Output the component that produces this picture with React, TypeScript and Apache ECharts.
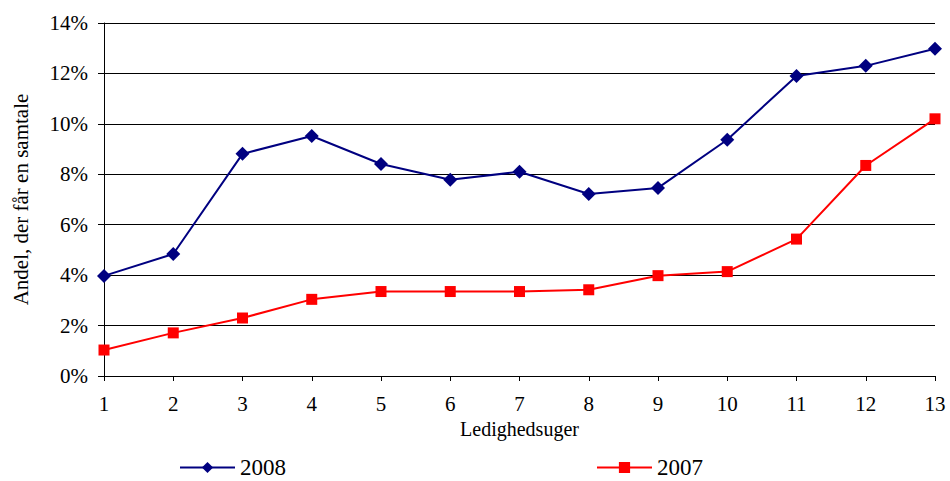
import React, { useEffect, useRef } from "react";
import * as echarts from "echarts";

const weeks = ["1", "2", "3", "4", "5", "6", "7", "8", "9", "10", "11", "12", "13"];
const values2008 = [3.97, 4.84, 8.81, 9.52, 8.41, 7.78, 8.1, 7.22, 7.46, 9.37, 11.9, 12.3, 12.98];
const values2007 = [1.03, 1.71, 2.3, 3.04, 3.35, 3.35, 3.35, 3.42, 3.98, 4.14, 5.43, 8.35, 10.2];
const seriesNames = ["2008", "2007"];

const font = "'Liberation Serif', 'Times New Roman', serif";

export default function App() {
  const ref = useRef<HTMLDivElement>(null);
  useEffect(() => {
    if (!ref.current) return;
    const chart = echarts.init(ref.current, null, { renderer: "svg" });
    chart.setOption({
      animation: false,
      backgroundColor: "#ffffff",
      textStyle: { fontFamily: font },
      grid: { left: 104, right: 15, top: 23, bottom: 105 },
      legend: {
        data: seriesNames,
        left: 174,
        top: 451,
        itemWidth: 55,
        itemHeight: 14,
        itemGap: 310,
        textStyle: { fontFamily: font, fontSize: 23, lineHeight: 23, color: "#000" },
      },
      xAxis: {
        type: "category",
        data: weeks,
        boundaryGap: false,
        name: "Ledighedsuger",
        nameLocation: "middle",
        nameGap: 43,
        nameTextStyle: { fontFamily: font, fontSize: 20, color: "#000" },
        axisLine: { lineStyle: { color: "#000", width: 1 } },
        axisTick: { show: true, alignWithLabel: true, length: 5, lineStyle: { color: "#000" } },
        axisLabel: { fontFamily: font, fontSize: 21, color: "#000", margin: 17 },
      },
      yAxis: {
        type: "value",
        min: 0,
        max: 14,
        interval: 2,
        name: "Andel, der får en samtale",
        nameLocation: "middle",
        nameGap: 73,
        nameTextStyle: { fontFamily: font, fontSize: 21, color: "#000" },
        axisLine: { show: true, lineStyle: { color: "#000", width: 1 } },
        axisTick: { show: true, length: 6, lineStyle: { color: "#000" } },
        axisLabel: { fontFamily: font, fontSize: 21, color: "#000", margin: 16, formatter: (v: number) => `${v}%` },
        splitLine: { lineStyle: { color: "#000", width: 1 } },
      },
      series: [
        {
          name: seriesNames[0],
          type: "line",
          data: values2008,
          symbol: "diamond",
          symbolSize: 14,
          itemStyle: { color: "#000080" },
          lineStyle: { color: "#000080", width: 2 },
        },
        {
          name: seriesNames[1],
          type: "line",
          data: values2007,
          symbol: "rect",
          symbolSize: 11,
          itemStyle: { color: "#ff0000" },
          lineStyle: { color: "#ff0000", width: 2 },
        },
      ],
    });
    return () => chart.dispose();
  }, []);
  return <div ref={ref} style={{ width: 950, height: 481, position: "absolute", left: 0, top: 0 }} />;
}
